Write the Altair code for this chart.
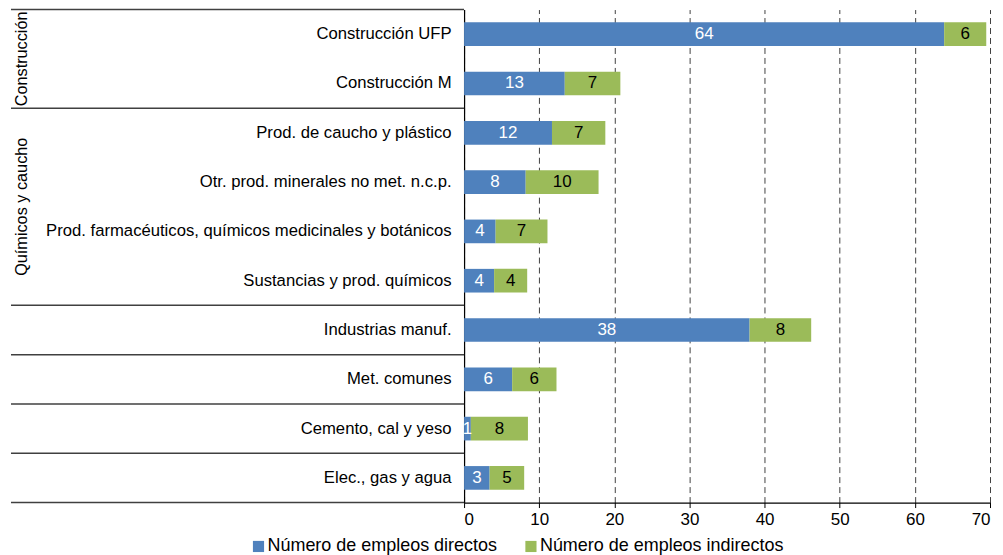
import altair as alt
import pandas as pd

categories = [
    "Construcción UFP",
    "Construcción M",
    "Prod. de caucho y plástico",
    "Otr. prod. minerales no met. n.c.p.",
    "Prod. farmacéuticos, químicos medicinales y botánicos",
    "Sustancias y prod. químicos",
    "Industrias manuf.",
    "Met. comunes",
    "Cemento, cal y yeso",
    "Elec., gas y agua",
]
direct = [63.9, 13.4, 11.7, 8.2, 4.2, 4.0, 38.0, 6.4, 0.9, 3.4]
indirect = [5.6, 7.4, 7.1, 9.7, 6.9, 4.4, 8.2, 5.9, 7.6, 4.6]
series_names = ["Número de empleos directos", "Número de empleos indirectos"]
series_colors = ["#4F81BD", "#9BBB59"]
x_ticks = [0, 10, 20, 30, 40, 50, 60, 70]

# group labels: anchored at the top edge of the row that sits in the middle of the group
group_names = ["Construcción", "Químicos y caucho"]
group_mid_rows = ["Construcción M", "Prod. farmacéuticos, químicos medicinales y botánicos"]

# separator lines (at the top edge of these rows, plus the bottom edge of the last row)
sep_top_rows = [
    "Construcción UFP",
    "Prod. de caucho y plástico",
    "Industrias manuf.",
    "Met. comunes",
    "Cemento, cal y yeso",
    "Elec., gas y agua",
]
sep_bottom_rows = ["Elec., gas y agua"]

df = pd.DataFrame({
    "cat": categories * 2,
    "series": [series_names[0]] * len(categories) + [series_names[1]] * len(categories),
    "value": direct + indirect,
    "order": [0] * len(categories) + [1] * len(categories),
})
groups_df = pd.DataFrame({"name": group_names, "cat": group_mid_rows})
sep_top_df = pd.DataFrame({"cat": sep_top_rows})
sep_bot_df = pd.DataFrame({"cat": sep_bottom_rows})

FONT = "Liberation Sans"


def yenc(band_position=None):
    kw = {}
    if band_position is not None:
        kw["bandPosition"] = band_position
    return alt.Y(
        "cat:N",
        sort=categories,
        scale=alt.Scale(domain=categories, paddingInner=0, paddingOuter=0),
        axis=alt.Axis(
            title=None, ticks=False, labelPadding=13, labelFontSize=16.7,
            labelColor="black", domainColor="black", domainWidth=1.2,
            labelLimit=600, labelFont=FONT,
        ),
        **kw,
    )


xscale = alt.Scale(domain=[0, 70], nice=False)
xaxis = alt.Axis(
    values=x_ticks, title=None, grid=True, gridDash=[6, 4], gridColor="#404040",
    gridWidth=1, tickColor="black", tickSize=5, domainColor="black", domainWidth=1.2,
    labelFontSize=17, labelPadding=4, labelColor="black", labelFont=FONT,
)

base = alt.Chart(df).transform_stack(
    stack="value", groupby=["cat"], as_=["v0", "v1"],
    sort=[alt.SortField("order", order="ascending")],
).transform_calculate(
    mid="(datum.v0 + datum.v1) / 2",
    lab="format(datum.value, '.0f')",
)

bars = base.mark_bar(height={"band": 0.48}).encode(
    x=alt.X("v0:Q", scale=xscale, axis=xaxis),
    x2="v1:Q",
    y=yenc(),
    color=alt.Color(
        "series:N",
        scale=alt.Scale(domain=series_names, range=series_colors),
        legend=alt.Legend(
            title=None, orient="none", legendX=-215, legendY=529,
            direction="horizontal", symbolType="square", symbolSize=125,
            symbolStrokeWidth=0, labelFontSize=18, labelFont=FONT,
            labelColor="black", labelLimit=500, columnPadding=24, labelOffset=0,
        ),
    ),
)

labels = base.mark_text(fontSize=17, font=FONT, align="center", baseline="middle").encode(
    x=alt.X("mid:Q", scale=xscale),
    y=yenc(),
    text="lab:N",
    color=alt.condition(
        alt.datum.order == 0, alt.value("white"), alt.value("black")
    ),
)

sep_top = alt.Chart(sep_top_df).mark_rule(color="#404040", strokeWidth=1.5).encode(
    y=yenc(0), x=alt.value(-454), x2=alt.value(0)
)
sep_bot = alt.Chart(sep_bot_df).mark_rule(color="#404040", strokeWidth=1.5).encode(
    y=yenc(1), x=alt.value(-454), x2=alt.value(0)
)

group_labels = alt.Chart(groups_df).mark_text(
    angle=270, fontSize=16.3, font=FONT, align="center", baseline="middle", color="black"
).encode(
    y=yenc(0), x=alt.value(-443), text="name:N"
)

chart = alt.layer(bars, labels, sep_top, sep_bot, group_labels).properties(
    width=527, height=494,
    padding={"left": 2, "top": 0, "right": 4, "bottom": 2},
).configure(font=FONT).configure_view(stroke=None)

chart.save("out.html", embed_options={"renderer": "svg", "actions": False})
